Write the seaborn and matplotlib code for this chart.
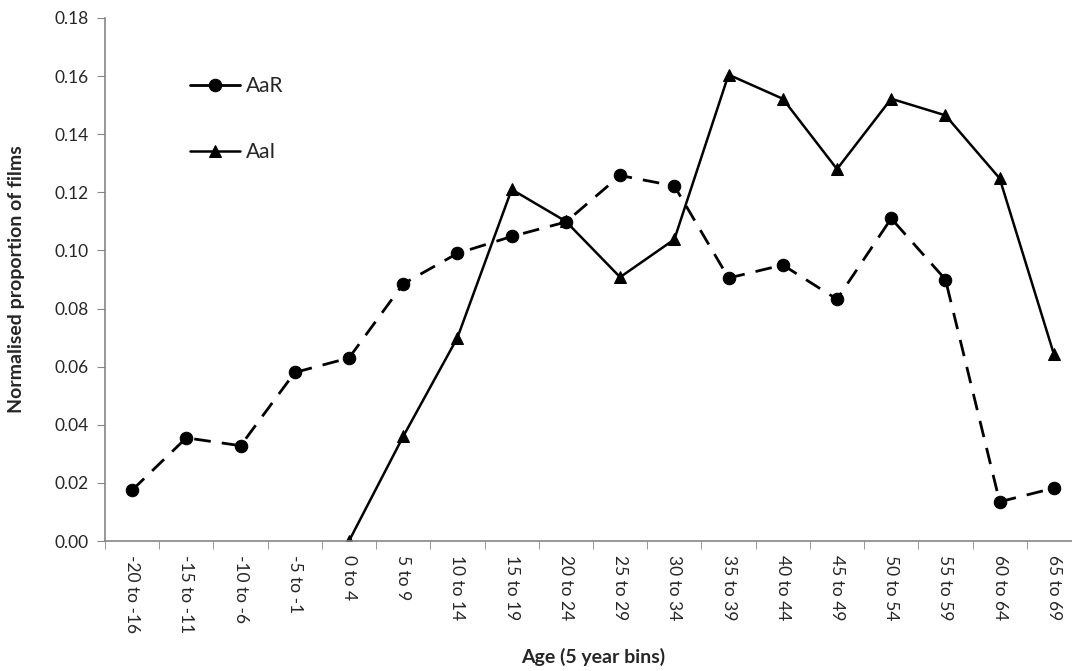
## Normalised proportion of films by age bin (AaR vs AaI)

import numpy as np
import pandas as pd
import matplotlib
matplotlib.use("Agg")
import matplotlib.pyplot as plt
from matplotlib.ticker import FixedLocator
import seaborn as sns

##########################################################################
## Data
##########################################################################
age_bins = ["-20 to -16", "-15 to -11", "-10 to -6", "-5 to -1", "0 to 4",
            "5 to 9", "10 to 14", "15 to 19", "20 to 24", "25 to 29",
            "30 to 34", "35 to 39", "40 to 44", "45 to 49", "50 to 54",
            "55 to 59", "60 to 64", "65 to 69"]

aar_values = [0.0175, 0.0355, 0.0328, 0.0580, 0.0630, 0.0885, 0.0990,
              0.1048, 0.1098, 0.1258, 0.1222, 0.0905, 0.0950, 0.0832,
              0.1110, 0.0900, 0.0135, 0.0182]

aai_values = [np.nan, np.nan, np.nan, np.nan, 0.0000, 0.0360, 0.0700,
              0.1210, 0.1100, 0.0908, 0.1038, 0.1605, 0.1522, 0.1280,
              0.1522, 0.1465, 0.1248, 0.0643]

y_ticks = np.arange(0, 0.181, 0.02)

df = pd.DataFrame({
    "pos": np.arange(len(age_bins)),
    "age": age_bins,
    "AaR": aar_values,
    "AaI": aai_values,
})

##########################################################################
## Plot
##########################################################################
sns.set_style("white")
plt.rcParams["font.family"] = ["Lato", "DejaVu Sans"]

fig = plt.figure(figsize=(10.72, 6.71), dpi=100)
ax = fig.add_axes([105 / 1072, 130 / 671, 976 / 1072, 523 / 671])

sns.lineplot(data=df.dropna(subset=["AaR"]), x="pos", y="AaR", ax=ax,
             color="black", linewidth=2.0, marker="o", markersize=9,
             markeredgecolor="black", label="AaR")
ax.lines[-1].set_dashes([6, 4])

sns.lineplot(data=df.dropna(subset=["AaI"]), x="pos", y="AaI", ax=ax,
             color="black", linewidth=1.8, marker="^", markersize=9,
             markeredgecolor="black", label="AaI")

ax.set_xlim(-0.5, len(age_bins) - 0.5)
ax.set_ylim(0, 0.18)
ax.set_yticks(y_ticks)
ax.set_yticklabels([f"{v:.2f}" for v in y_ticks], fontsize=12.5)

ax.set_xticks(df["pos"])
ax.set_xticklabels(age_bins, rotation=-90, fontsize=12.5, va="top", ha="center")
ax.xaxis.set_minor_locator(FixedLocator(np.arange(-0.5, len(age_bins), 1)))
ax.tick_params(axis="x", which="major", length=0, pad=10)
ax.tick_params(axis="x", which="minor", length=6, color="#868686", direction="out", bottom=True)
ax.tick_params(axis="y", which="major", length=6, color="#868686", direction="out", left=True, pad=6)

for side in ("top", "right"):
    ax.spines[side].set_visible(False)
for side in ("left", "bottom"):
    ax.spines[side].set_color("#868686")
    ax.spines[side].set_linewidth(1.2)

ax.set_xlabel("Age (5 year bins)", fontsize=14, fontweight="bold")
ax.set_ylabel("Normalised proportion of films", fontsize=14, fontweight="bold")
ax.xaxis.set_label_coords(0.5, -0.205)
ax.yaxis.set_label_coords(-0.082, 0.5)

leg = ax.legend(loc="upper left", bbox_to_anchor=(0.068, 0.925), frameon=False,
                fontsize=15, handlelength=2.4, labelspacing=2.2, handletextpad=0.3)
for h in leg.get_lines():
    h.set_linestyle("-")

fig.savefig("out.png", dpi=100)
plt.close(fig)
